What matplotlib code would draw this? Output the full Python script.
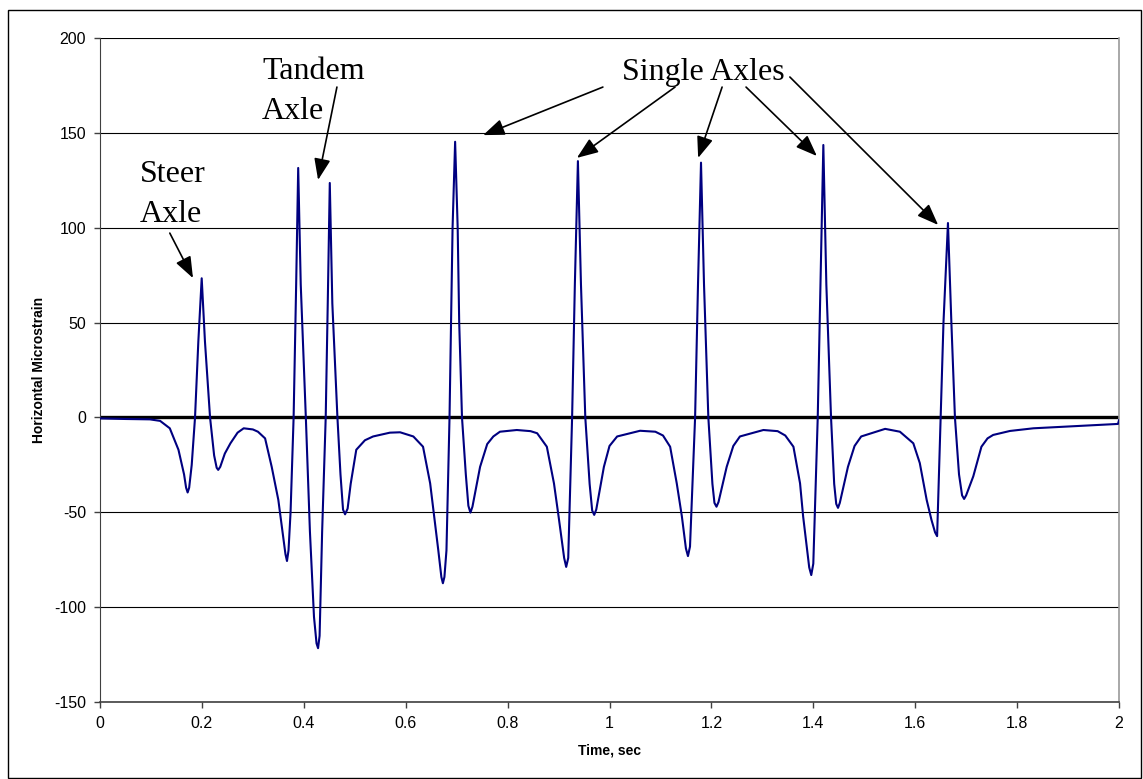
import matplotlib
matplotlib.use("Agg")
import matplotlib.pyplot as plt
from matplotlib.patches import Rectangle

plt.rcParams['axes.unicode_minus'] = False

# strain trace (time in sec, microstrain)
time_s = [0.000, 0.050, 0.098, 0.118, 0.137, 0.154, 0.165, 0.169, 0.172, 0.175,
          0.180, 0.1865, 0.193, 0.1996, 0.206, 0.216, 0.224, 0.229, 0.232, 0.236,
          0.245, 0.256, 0.270, 0.282, 0.300, 0.310, 0.324, 0.337, 0.350, 0.359,
          0.364, 0.367, 0.370, 0.374, 0.380, 0.385, 0.389, 0.394, 0.404, 0.412,
          0.420, 0.425, 0.428, 0.431, 0.436, 0.443, 0.447, 0.451, 0.456, 0.466,
          0.472, 0.477, 0.481, 0.486, 0.492, 0.503, 0.520, 0.536, 0.569, 0.589,
          0.615, 0.634, 0.648, 0.664, 0.670, 0.673, 0.676, 0.680, 0.686, 0.689,
          0.692, 0.697, 0.702, 0.705, 0.7105, 0.718, 0.723, 0.727, 0.731, 0.746,
          0.760, 0.772, 0.785, 0.818, 0.845, 0.858, 0.877, 0.891, 0.900, 0.911,
          0.915, 0.919, 0.9266, 0.932, 0.938, 0.944, 0.9525, 0.961, 0.966, 0.970,
          0.974, 0.989, 1.000, 1.015, 1.060, 1.090, 1.105, 1.119, 1.132, 1.142,
          1.150, 1.154, 1.158, 1.168, 1.1737, 1.1796, 1.1855, 1.194, 1.202, 1.206,
          1.210, 1.214, 1.230, 1.243, 1.256, 1.302, 1.330, 1.345, 1.361, 1.374,
          1.380, 1.392, 1.396, 1.400, 1.4087, 1.4141, 1.4197, 1.4256, 1.4348, 1.441,
          1.445, 1.4485, 1.452, 1.468, 1.481, 1.494, 1.541, 1.570, 1.5963, 1.609,
          1.6225, 1.632, 1.639, 1.643, 1.650, 1.6555, 1.6643, 1.671, 1.678, 1.686,
          1.692, 1.696, 1.700, 1.714, 1.730, 1.742, 1.753, 1.786, 1.832, 1.897,
          1.963, 1.998, 2.000]
strain = [-0.5, -0.8, -1.0, -1.8, -5.7, -17, -30, -37, -39.5, -37,
          -25, 0, 40, 73.3, 40, 0, -20, -26.5, -27.6, -26,
          -19, -13.6, -8, -5.7, -6.3, -7.5, -11, -26, -43.4, -62,
          -72, -75.6, -70, -50, 0, 70, 131.4, 70, 0, -60,
          -105, -119, -121.5, -115, -60, 0, 60, 123.5, 60, 0,
          -30, -48.5, -51, -48, -35, -17, -12, -10, -8, -7.8,
          -10, -15.4, -34.7, -70, -84, -87.3, -84, -70, 0, 50,
          100, 145.2, 100, 50, 0, -30, -46.5, -50.1, -47, -26,
          -14, -10, -7.5, -6.6, -7.2, -8.3, -15.4, -34.7, -52, -74,
          -78.7, -74, 0, 70, 135, 70, 0, -35, -49, -51.3,
          -48.5, -26, -15, -10, -7, -7.5, -9.5, -15.4, -34.7, -52,
          -69, -73, -68, 0, 70, 134.2, 70, 0, -35, -45,
          -47, -44.5, -26, -15, -10, -6.6, -7.2, -9.5, -15.4, -34.7,
          -52, -79, -83, -77, 0, 70, 143.5, 70, 0, -35,
          -45.5, -47.6, -45, -26, -15, -10, -6, -7.5, -13.6, -24,
          -43.4, -54, -60.5, -62.5, 0, 50, 102.4, 50, 0, -30,
          -41, -42.9, -41, -31, -15.4, -11, -9.2, -7.1, -5.7, -4.8,
          -3.9, -3.4, -1.5]

x_ticks = [0, 0.2, 0.4, 0.6, 0.8, 1.0, 1.2, 1.4, 1.6, 1.8, 2.0]
x_labels = ['0', '0.2', '0.4', '0.6', '0.8', '1', '1.2', '1.4', '1.6', '1.8', '2']
y_ticks = [-150, -100, -50, 0, 50, 100, 150, 200]

# callouts: (text tail) -> (arrow head), in data units
steer_arrow = ((0.137, 97.1), (0.1825, 73.4))
tandem_arrow = ((0.465, 174.0), (0.428, 125.1))
single_arrows = [((0.987, 174.0), (0.752, 148.7)),
                 ((1.1286, 174.0), (0.936, 136.7)),
                 ((1.221, 174.0), (1.174, 136.7)),
                 ((1.268, 174.0), (1.407, 137.7)),
                 ((1.354, 179.3), (1.645, 101.4))]

fig = plt.figure(figsize=(11.43, 7.79), dpi=100)
fig.patches.append(Rectangle((8 / 1143, 1 - 778 / 779), 1133 / 1143, 768 / 779,
                             transform=fig.transFigure, fill=False,
                             edgecolor='black', linewidth=1))
ax = fig.add_axes([100 / 1143, 1 - 702.3 / 779, 1019 / 1143, 664.6 / 779])

ax.set_xlim(0, 2)
ax.set_ylim(-150, 200)
for y in y_ticks:
    ax.axhline(y, color='black', linewidth=0.8, zorder=1)
ax.axhline(0, color='black', linewidth=2.4, zorder=2)
ax.plot(time_s, strain, color='#000080', linewidth=1.5, zorder=3)

ax.set_xticks(x_ticks)
ax.set_xticklabels(x_labels)
ax.set_yticks(y_ticks)
ax.tick_params(direction='out', length=4, width=1, color='#404040',
               labelsize=11.5, pad=6)
for lab in ax.get_xticklabels() + ax.get_yticklabels():
    lab.set_family('Liberation Sans')
ax.spines['top'].set_visible(False)
ax.spines['left'].set_color('#404040')
ax.spines['bottom'].set_color('#404040')
ax.spines['bottom'].set_linewidth(1.2)
ax.spines['right'].set_color('#999999')
ax.spines['right'].set_linewidth(1.2)

ax.set_xlabel('Time, sec', fontsize=10, fontweight='bold', family='Liberation Sans', labelpad=9)
ax.set_ylabel('Horizontal Microstrain', fontsize=10, fontweight='bold', family='Liberation Sans', labelpad=6)

txt = dict(fontsize=23, family='Liberation Serif', ha='left', va='baseline')
ax.text(0.0785, 124.0, 'Steer', **txt)
ax.text(0.0785, 102.9, 'Axle', **txt)
ax.text(0.318, 178.3, 'Tandem', **txt)
ax.text(0.318, 157.2, 'Axle', **txt)
ax.text(1.0245, 177.7, 'Single Axles', **txt)

arrow = dict(arrowstyle='-|>,head_length=1.3,head_width=0.5', color='black',
             linewidth=1.2, shrinkA=0, shrinkB=0)
for tail, head in [steer_arrow, tandem_arrow] + single_arrows:
    ax.annotate('', xy=head, xytext=tail, arrowprops=arrow, zorder=4)

plt.savefig('out.png', dpi=100)
